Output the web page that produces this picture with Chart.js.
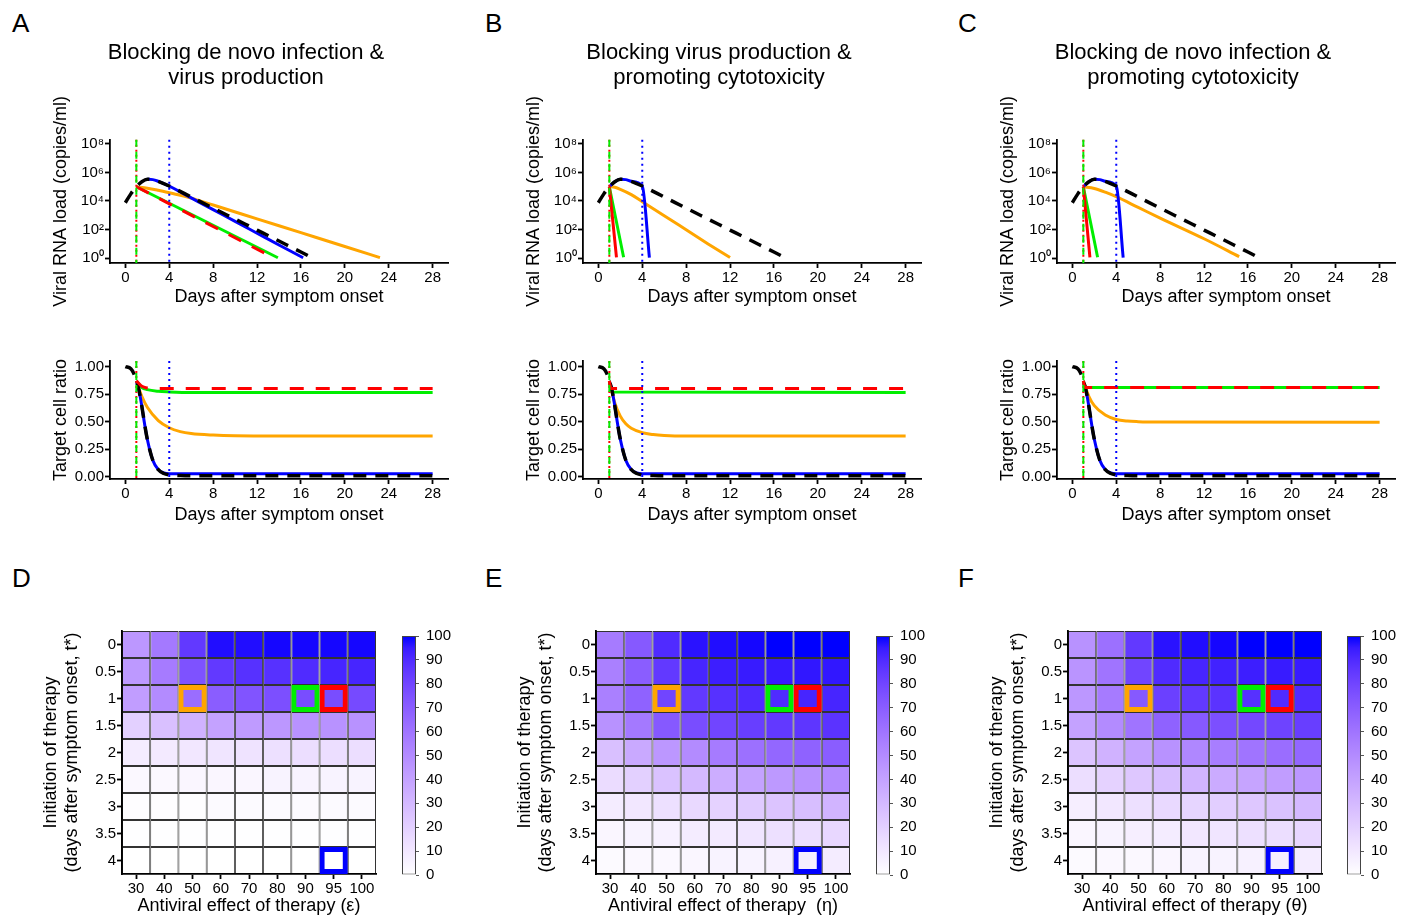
<!DOCTYPE html>
<html>
<head>
<meta charset="utf-8">
<script src="https://cdn.jsdelivr.net/npm/chart.js@4.4.0/dist/chart.umd.min.js"></script>
<style>
  body { margin: 0; background: #fff; width: 1405px; height: 917px; position: relative; overflow: hidden;
         font-family: "Liberation Sans", Arial, sans-serif; }
  .letter { position: absolute; font-size: 26px; line-height: 1; color: #000; }
</style>
</head>
<body>
<div class="letter" style="left:12px;top:10px">A</div>
<div class="letter" style="left:485px;top:10px">B</div>
<div class="letter" style="left:958px;top:10px">C</div>
<div class="letter" style="left:12px;top:565px">D</div>
<div class="letter" style="left:485px;top:565px">E</div>
<div class="letter" style="left:958px;top:565px">F</div>
<script>
// ---- data ----
const dayTicks = [0, 4, 8, 12, 16, 20, 24, 28];
const logTicks = [0, 2, 4, 6, 8];
const ratioTicks = [0, 0.25, 0.5, 0.75, 1];
const therapyStart = [1, 4];

const panelTitles = [
  ['Blocking de novo infection &', 'virus production'],
  ['Blocking virus production &', 'promoting cytotoxicity'],
  ['Blocking de novo infection &', 'promoting cytotoxicity']
];

// viral load as [day, log10 copies/ml]
const untreatedViral = [[0,3.88],[0.5,4.5],[1,5.0],[1.5,5.35],[2,5.52],[2.5,5.5],[3,5.38],[4,5.05],[6,4.28],[8,3.5],[10,2.73],[12,1.96],[14,1.19],[16,0.42],[16.8,0.1]];
const aViralBlue = [[2,5.52],[2.5,5.5],[3,5.38],[4,5.05],[6,4.22],[8,3.39],[10,2.57],[12,1.74],[14,0.91],[16.2,0.02]];
const aViralRed = [[1,5.0],[13.5,0.02]];
const aViralGreen = [[1,5.0],[13.9,0.02]];
const aViralOrange = [[1,5.0],[2,4.9],[3,4.75],[4,4.58],[5,4.4],[6,4.2],[8,3.72],[12,2.75],[16,1.78],[20,0.81],[23.2,0.03]];
const bViralBlue = [[1,5.0],[1.5,5.35],[2,5.52],[2.5,5.5],[3,5.38],[4,5.05],[4.65,0.03]];
const bViralRed = [[1,5.0],[1.65,0.05]];
const bViralGreen = [[1,5.0],[2.3,0.05]];
const bViralOrange = [[1,5.02],[1.5,4.96],[2,4.82],[3,4.45],[4,3.95],[6,2.97],[8,1.98],[10,0.99],[12,0.03]];
const cViralBlue = [[1,5.0],[1.5,5.35],[2,5.52],[2.5,5.5],[3,5.38],[4,5.05],[4.63,0.03]];
const cViralRed = [[1,5.0],[1.6,0.05]];
const cViralGreen = [[1,5.0],[2.3,0.05]];
const cViralOrange = [[1,5.0],[2,4.88],[3,4.62],[4,4.3],[6,3.55],[8,2.8],[12,1.35],[15.2,0.1]];

// target cell ratio as [day, ratio]
const untreatedCells = [[0,1.0],[0.5,0.98],[0.75,0.94],[1,0.87],[1.25,0.78],[1.5,0.64],[1.75,0.48],[2,0.34],[2.5,0.15],[3,0.065],[3.5,0.03],[4,0.018],[5,0.012],[6,0.01],[28,0.01]];
const delayedCells = [[1,0.87],[1.25,0.78],[1.5,0.64],[1.75,0.48],[2,0.34],[2.5,0.15],[3,0.065],[3.5,0.035],[4,0.027],[28,0.027]];
const aCellsRed = [[1,0.87],[1.5,0.82],[2,0.805],[3,0.8],[28,0.8]];
const aCellsGreen = [[1,0.87],[1.5,0.81],[2,0.79],[3,0.775],[4,0.77],[6,0.765],[28,0.765]];
const aCellsOrange = [[1,0.87],[1.5,0.73],[2,0.63],[3,0.51],[4,0.445],[5,0.41],[6,0.392],[8,0.378],[10,0.372],[14,0.37],[28,0.37]];
const bCellsRed = [[1,0.87],[1.15,0.8],[28,0.8]];
const bCellsGreen = [[1,0.87],[1.2,0.77],[28,0.765]];
const bCellsOrange = [[1,0.87],[1.5,0.67],[2,0.55],[2.5,0.48],[3,0.44],[4,0.4],[5,0.383],[6,0.375],[8,0.37],[28,0.37]];
const cCellsRed = [[1,0.87],[1.15,0.81],[28,0.81]];
const cCellsGreen = [[1,0.87],[1.15,0.81],[28,0.81]];
const cCellsOrange = [[1,0.87],[1.5,0.73],[2,0.645],[3,0.56],[4,0.52],[5,0.505],[6,0.5],[8,0.497],[28,0.495]];

// heatmaps: rows = therapy start, columns = antiviral effect
const effectLabels = ['30','40','50','60','70','80','90','95','100'];
const startLabels = ['0','0.5','1','1.5','2','2.5','3','3.5','4'];
const colourTicks = [0,10,20,30,40,50,60,70,80,90,100];
const heatD = [
  [45,58,85,98,98,99,99,99,99],
  [44,57,75,85,88,88,90,92,92],
  [42,50,63,70,74,76,77,77,78],
  [20,27,33,40,43,45,47,47,47],
  [8,9,10,11,12,13,14,14,14],
  [3,3,4,4,4,5,5,5,5],
  [1,1,1,2,2,2,2,2,2],
  [0.5,0.5,0.5,0.5,0.5,0.5,0.5,0.5,0.5],
  [0,0,0,0,0,0,0,0,0]
];
const heatE = [
  [57,72,90,97,98,99,100,100,100],
  [55,70,85,92,94,95,95,96,96],
  [55,68,80,85,88,90,90,92,92],
  [47,58,72,77,80,83,85,86,87],
  [27,37,45,50,57,62,66,68,70],
  [15,20,26,30,35,40,44,47,50],
  [8,10,13,16,19,22,25,28,32],
  [4,5,6,8,9,11,13,14,17],
  [2,3,3,4,5,5,6,7,8]
];
const heatF = [
  [47,62,85,97,98,99,100,100,100],
  [46,60,80,90,92,93,94,95,95],
  [45,57,72,82,85,87,88,90,90],
  [40,50,60,68,72,76,79,81,83],
  [25,33,40,47,52,56,60,63,66],
  [14,19,24,28,32,36,39,42,45],
  [7,10,13,16,18,21,24,26,30],
  [4,5,7,8,10,11,13,14,17],
  [2,3,3,4,5,5,6,7,8]
];
const highlightEffect = ['50', '90', '95', '95'];
const highlightStart = ['1', '1', '1', '4'];

// ---- styles / layout ----
const highlightColour = ['#FFA500', '#00EE00', '#FF0000', '#0000FF'];
const colLeft = [110, 582.5, 1057];
const heatLeft = [121.5, 596, 1068];
const barLeft = [401.5, 876, 1346.5];

Chart.defaults.font.family = '"Liberation Sans", Arial, sans-serif';
Chart.defaults.color = '#000';
Chart.defaults.animation = false;

const sup = {0: '\u2070', 2: '\u00B2', 4: '\u2074', 6: '\u2076', 8: '\u2078'};

// white -> blue in Lab space
function toLin(c) { c /= 255; return c <= 0.04045 ? c / 12.92 : Math.pow((c + 0.055) / 1.055, 2.4); }
function fromLin(c) { c = c <= 0.0031308 ? 12.92 * c : 1.055 * Math.pow(c, 1 / 2.4) - 0.055; return Math.round(Math.max(0, Math.min(1, c)) * 255); }
function rgb2lab(rgb) {
  const [r, g, b] = rgb.map(toLin);
  const x = (0.4124 * r + 0.3576 * g + 0.1805 * b) / 0.95047;
  const y = 0.2126 * r + 0.7152 * g + 0.0722 * b;
  const z = (0.0193 * r + 0.1192 * g + 0.9505 * b) / 1.08883;
  const f = t => t > 0.008856 ? Math.cbrt(t) : 7.787 * t + 16 / 116;
  return [116 * f(y) - 16, 500 * (f(x) - f(y)), 200 * (f(y) - f(z))];
}
function lab2rgb([L, a, bb]) {
  const fy = (L + 16) / 116, fx = fy + a / 500, fz = fy - bb / 200;
  const fi = t => t * t * t > 0.008856 ? t * t * t : (t - 16 / 116) / 7.787;
  const x = fi(fx) * 0.95047, y = fi(fy), z = fi(fz) * 1.08883;
  const r = 3.2406 * x - 1.5372 * y - 0.4986 * z;
  const g = -0.9689 * x + 1.8758 * y + 0.0415 * z;
  const b = 0.0557 * x - 0.2040 * y + 1.0570 * z;
  return `rgb(${fromLin(r)},${fromLin(g)},${fromLin(b)})`;
}
const labLow = rgb2lab([255, 255, 255]), labHigh = rgb2lab([0, 0, 255]);
function fillFor(v) { const t = v / 100; return lab2rgb(labLow.map((l, i) => l + (labHigh[i] - l) * t)); }

function addCanvas(left, top, width, height) {
  const c = document.createElement('canvas');
  c.width = Math.round(width); c.height = Math.round(height);
  c.style.cssText = `position:absolute;left:${left}px;top:${top}px;width:${Math.round(width)}px;height:${Math.round(height)}px`;
  document.body.appendChild(c);
  return c;
}

function axis(extra) {
  const a = {
    border: {display: true, color: '#000', width: 1.8},
    grid: {display: true, drawOnChartArea: false, drawTicks: true, tickLength: 5, tickWidth: 1.8, tickColor: '#000'},
    ticks: {color: '#000', font: {size: 15}, padding: 1, maxRotation: 0, autoSkip: false}
  };
  Object.keys(extra).forEach(k => {
    a[k] = (a[k] && typeof extra[k] === 'object') ? Object.assign({}, a[k], extra[k]) : extra[k];
  });
  return a;
}

// dotted/dashed lines at therapy start days
const vlinePlugin = {
  id: 'vlines',
  afterDatasetsDraw(chart, args, opts) {
    const {ctx, chartArea, scales} = chart;
    (opts.lines || []).forEach(l => {
      const px = scales.x.getPixelForValue(l.day);
      ctx.save();
      ctx.beginPath();
      ctx.setLineDash(l.dash);
      ctx.lineWidth = l.width;
      ctx.strokeStyle = l.color;
      ctx.moveTo(px, chartArea.top);
      ctx.lineTo(px, chartArea.bottom);
      ctx.stroke();
      ctx.restore();
    });
  }
};

function series(points, colour, width, dash, viral) {
  return {
    data: points.map(([d, v]) => ({x: d, y: viral ? Math.pow(10, v) : v})),
    borderColor: colour, borderWidth: width, borderDash: dash,
    pointRadius: 0, fill: false, cubicInterpolationMode: 'monotone', borderCapStyle: 'butt'
  };
}

function curveChart(col, viral, red, black, green, blue, orange, redDash) {
  const plotLeft = colLeft[col], plotW = 337.5;
  const plotTop = viral ? 139.7 : 357, plotH = viral ? 123 : 122;
  const yW = 66, padR = 8, xH = viral ? 49 : 51;
  const canvasTop = viral ? 35 : plotTop - 6;
  const canvas = addCanvas(plotLeft - yW, canvasTop, yW + plotW + padR, plotTop - canvasTop + plotH + xH);
  const titleLine = 22 * 1.15;
  new Chart(canvas, {
    type: 'line',
    data: {
      datasets: [
        series(red, '#FF0000', 3, redDash, viral),
        series(black, '#000000', 3.5, [13, 9], viral),
        series(green, '#00EE00', 3, [], viral),
        series(blue, '#0000FF', 3, [], viral),
        series(orange, '#FFA500', 3, [], viral)
      ]
    },
    options: {
      responsive: false,
      animation: false,
      layout: {padding: {top: viral ? 0 : 6, right: padR, left: 0, bottom: 0}},
      plugins: {
        legend: {display: false},
        tooltip: {enabled: false},
        title: viral ? {
          display: true, text: panelTitles[col], color: '#000',
          font: {size: 22, weight: 'normal', lineHeight: 1.15},
          padding: {top: 5, bottom: plotTop - canvasTop - 5 - 2 * titleLine}
        } : {display: false},
        vlines: {lines: [
          {day: therapyStart[0], color: '#FF0000', dash: [2, 3], width: 2},
          {day: therapyStart[0], color: '#00EE00', dash: [7, 5], width: 2},
          {day: therapyStart[1], color: '#0000FF', dash: [2, 4], width: 2}
        ]}
      },
      scales: {
        x: axis({
          type: 'linear', min: -1.4, max: 29.4,
          afterBuildTicks: s => { s.ticks = dayTicks.map(v => ({value: v})); },
          afterFit: s => { s.height = xH; },
          title: {display: true, text: 'Days after symptom onset', color: '#000', font: {size: 18}, padding: {top: 0, bottom: 4}}
        }),
        y: viral ? axis({
          type: 'logarithmic', min: Math.pow(10, -0.35), max: Math.pow(10, 8.3),
          afterBuildTicks: s => { s.ticks = logTicks.map(p => ({value: Math.pow(10, p)})); },
          ticks: {callback: v => '10' + sup[Math.round(Math.log10(v))]},
          afterFit: s => { s.width = yW; },
          title: {display: true, text: 'Viral RNA load (copies/ml)', color: '#000', font: {size: 18}, padding: {top: 6, bottom: 0}}
        }) : axis({
          type: 'linear', min: -0.02, max: 1.05,
          afterBuildTicks: s => { s.ticks = ratioTicks.map(v => ({value: v})); },
          ticks: {callback: v => v.toFixed(2)},
          afterFit: s => { s.width = yW; },
          title: {display: true, text: 'Target cell ratio', color: '#000', font: {size: 18}, padding: {top: 6, bottom: 0}}
        })
      }
    },
    plugins: [vlinePlugin]
  });
}

const cellOpts = {grouped: false, borderSkipped: false, barPercentage: 1, categoryPercentage: 1, inflateAmount: 0};

function heatChart(col, values, xTitle) {
  const plotLeft = heatLeft[col], plotTop = 629, plotW = 253.5, plotH = 245;
  const yW = 88, xH = 47, padT = 8, padR = 4;
  const canvas = addCanvas(plotLeft - yW, plotTop - padT, yW + plotW + padR, padT + plotH + xH);
  const datasets = [];
  highlightEffect.forEach((eff, k) => {
    const r = startLabels.indexOf(highlightStart[k]);
    datasets.push(Object.assign({
      data: effectLabels.map(e => e === eff ? [r, r + 1] : null),
      backgroundColor: 'rgba(0,0,0,0)', borderColor: highlightColour[k], borderWidth: 5
    }, cellOpts));
  });
  values.forEach((row, i) => {
    datasets.push(Object.assign({
      data: row.map(() => [i, i + 1]),
      backgroundColor: row.map(fillFor), borderColor: 'rgba(0,0,0,0.8)', borderWidth: 1
    }, cellOpts));
  });
  new Chart(canvas, {
    type: 'bar',
    data: {labels: effectLabels, datasets},
    options: {
      responsive: false,
      animation: false,
      layout: {padding: {top: padT, right: padR, left: 0, bottom: 0}},
      plugins: {legend: {display: false}, tooltip: {enabled: false}},
      scales: {
        x: axis({
          type: 'category', offset: true,
          grid: {offset: false},
          afterFit: s => { s.height = xH; },
          title: {display: true, text: xTitle, color: '#000', font: {size: 18}, padding: {top: 0, bottom: 4}}
        }),
        y: axis({
          type: 'linear', min: 0, max: 9, reverse: true,
          afterBuildTicks: s => { s.ticks = startLabels.map((l, i) => ({value: i + 0.5})); },
          ticks: {callback: v => startLabels[Math.floor(v)]},
          afterFit: s => { s.width = yW; },
          title: {display: true, text: ['Initiation of therapy', '(days after symptom onset, t*)'], color: '#000',
                  font: {size: 18, lineHeight: 1.2}, padding: {top: 6, bottom: 0}}
        })
      }
    }
  });
}

function colourBar(col) {
  const left = barLeft[col], top = 630, w = 13.5, h = 250.5, padT = 10, yW = 45;
  const canvas = addCanvas(left, top - padT, w + yW, h + 2 * padT);
  new Chart(canvas, {
    type: 'bar',
    data: {
      labels: [''],
      datasets: [{
        data: [[0, 100]],
        backgroundColor: ctx => {
          const area = ctx.chart.chartArea;
          if (!area) return '#fff';
          const g = ctx.chart.ctx.createLinearGradient(0, area.bottom, 0, area.top);
          for (let v = 0; v <= 100; v += 5) g.addColorStop(v / 100, fillFor(v));
          return g;
        },
        borderColor: '#444', borderWidth: 1, borderSkipped: false,
        barPercentage: 1, categoryPercentage: 1, inflateAmount: 0
      }]
    },
    options: {
      responsive: false,
      animation: false,
      layout: {padding: {top: padT, bottom: padT, left: 0, right: 0}},
      plugins: {legend: {display: false}, tooltip: {enabled: false}},
      scales: {
        x: {display: false},
        y: {
          position: 'right', min: 0, max: 100,
          afterBuildTicks: s => { s.ticks = colourTicks.map(v => ({value: v})); },
          afterFit: s => { s.width = yW; },
          border: {display: false},
          grid: {display: true, drawOnChartArea: false, drawTicks: true, tickLength: 3, color: '#555'},
          ticks: {color: '#000', font: {size: 15}, padding: 7}
        }
      }
    }
  });
}

curveChart(0, true, aViralRed, untreatedViral, aViralGreen, aViralBlue, aViralOrange, [14, 12]);
curveChart(1, true, bViralRed, untreatedViral, bViralGreen, bViralBlue, bViralOrange, []);
curveChart(2, true, cViralRed, untreatedViral, cViralGreen, cViralBlue, cViralOrange, []);
curveChart(0, false, aCellsRed, untreatedCells, aCellsGreen, delayedCells, aCellsOrange, [14, 12]);
curveChart(1, false, bCellsRed, untreatedCells, bCellsGreen, delayedCells, bCellsOrange, [14, 12]);
curveChart(2, false, cCellsRed, untreatedCells, cCellsGreen, delayedCells, cCellsOrange, [14, 12]);

heatChart(0, heatD, 'Antiviral effect of therapy (\u03B5)');
heatChart(1, heatE, 'Antiviral effect of therapy  (\u03B7)');
heatChart(2, heatF, 'Antiviral effect of therapy (\u03B8)');
colourBar(0);
colourBar(1);
colourBar(2);
</script>
</body>
</html>
